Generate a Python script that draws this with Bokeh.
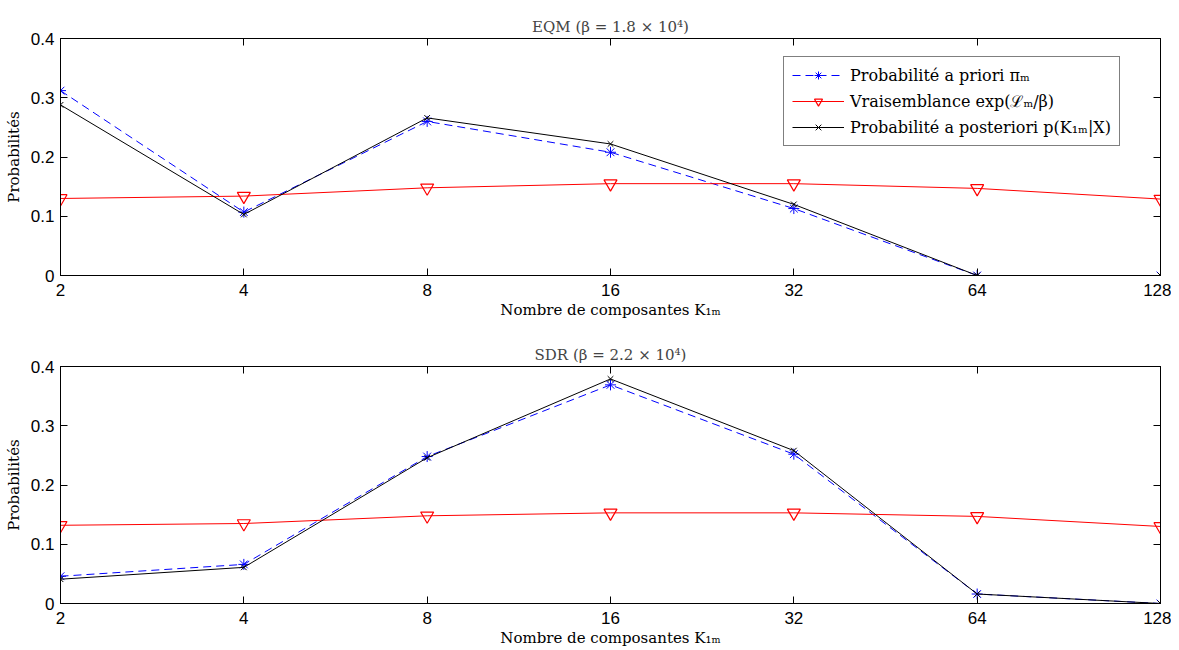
from bokeh.plotting import figure
from bokeh.layouts import column
from bokeh.models import (FixedTicker, NumeralTickFormatter, CustomJSTickFormatter,
                          Legend, LegendItem, LinearAxis, LogAxis, Range1d)
from bokeh.embed import file_html
from bokeh.resources import INLINE

K = [2, 4, 8, 16, 32, 64, 128]

titles = ["EQM (β = 1.8 × 10⁴)", "SDR (β = 2.2 × 10⁴)"]

prior_eqm = [0.312, 0.107, 0.260, 0.208, 0.113, 0.0, 0.0]
lik_eqm = [0.130, 0.134, 0.148, 0.155, 0.155, 0.147, 0.129]
post_eqm = [0.288, 0.103, 0.266, 0.222, 0.120, 0.0, 0.0]

prior_sdr = [0.046, 0.066, 0.248, 0.369, 0.252, 0.016, 0.0]
lik_sdr = [0.132, 0.135, 0.148, 0.153, 0.153, 0.147, 0.130]
post_sdr = [0.041, 0.061, 0.246, 0.379, 0.258, 0.016, 0.0]

legend_labels = ["Probabilité a priori πₘ",
                 "Vraisemblance exp(ℒₘ/β)",
                 "Probabilité a posteriori p(K₁ₘ|X)"]

SERIF = "DejaVu Serif"
SANS = "Liberation Sans"


def style_axis(ax):
    ax.major_tick_in = 7
    ax.major_tick_out = 0
    ax.minor_tick_in = 0
    ax.minor_tick_out = 0
    ax.axis_line_color = "black"
    ax.major_tick_line_color = "black"
    ax.major_label_text_font = SANS
    ax.major_label_text_font_size = "17px"
    ax.major_label_text_color = "black"
    ax.major_label_standoff = 6
    ax.axis_label_text_font = SERIF
    ax.axis_label_text_font_size = "15px"
    ax.axis_label_text_font_style = "normal"
    ax.axis_label_text_color = "black"


def make(title, prior, lik, post, top, height, bottom, legend):
    p = figure(width=1171, height=height, x_axis_type="log",
               x_range=Range1d(2, 128), y_range=Range1d(0, 0.4),
               output_backend="svg", toolbar_location=None,
               min_border_left=60, min_border_right=11,
               min_border_top=top, min_border_bottom=bottom)
    p.title.text = title
    p.title.align = "center"
    p.title.text_font = SERIF
    p.title.text_font_size = "15px"
    p.title.text_font_style = "normal"
    p.title.standoff = 5
    p.xgrid.visible = False
    p.ygrid.visible = False
    p.outline_line_color = "black"

    xt = FixedTicker(ticks=K)
    yt = FixedTicker(ticks=[0, 0.1, 0.2, 0.3, 0.4])
    yfmt = CustomJSTickFormatter(code="return Math.abs(tick) < 1e-9 ? '0' : tick.toFixed(1);")
    blank = CustomJSTickFormatter(code="return '';")
    p.xaxis.ticker = xt
    p.xaxis.formatter = NumeralTickFormatter(format="0")
    p.xaxis.axis_label = "Nombre de composantes K₁ₘ"
    p.yaxis.ticker = yt
    p.yaxis.formatter = yfmt
    p.yaxis.axis_label = "Probabilités"
    style_axis(p.xaxis[0])
    style_axis(p.yaxis[0])
    p.xaxis.major_label_standoff = 8
    p.xaxis.axis_label_standoff = 2
    p.yaxis.axis_label_standoff = 5

    ra = LinearAxis(ticker=yt, formatter=blank)
    style_axis(ra)
    ra.major_label_standoff = 0
    p.add_layout(ra, "right")
    ta = LogAxis(ticker=xt, formatter=blank)
    style_axis(ta)
    ta.major_label_standoff = 0
    p.add_layout(ta, "above")

    l1 = p.line(K, prior, line_color="blue", line_dash="8 5", line_width=1)
    m1 = p.scatter(K, prior, marker="asterisk", size=11, line_color="blue", line_width=1)
    l2 = p.line(K, lik, line_color="red", line_width=1)
    m2 = p.scatter(K, lik, marker="inverted_triangle", size=13, line_color="red",
                   fill_color=None, line_width=1.2)
    l3 = p.line(K, post, line_color="black", line_width=1)
    m3 = p.scatter(K, post, marker="x", size=8, line_color="black", line_width=1)

    if legend:
        lg = Legend(items=[LegendItem(label=legend_labels[0], renderers=[l1, m1]),
                           LegendItem(label=legend_labels[1], renderers=[l2, m2]),
                           LegendItem(label=legend_labels[2], renderers=[l3, m3])],
                    location=(723, 129))
        lg.label_text_font = SERIF
        lg.label_text_font_size = "16px"
        lg.label_text_color = "black"
        lg.border_line_color = "black"
        lg.border_line_width = 1
        lg.glyph_width = 52
        lg.glyph_height = 20
        lg.label_height = 20
        lg.spacing = 5
        lg.padding = 8
        lg.label_standoff = 6
        lg.margin = 0
        p.add_layout(lg, "center")
    return p


p1 = make(titles[0], prior_eqm, lik_eqm, post_eqm, top=38, height=336, bottom=61, legend=True)
p2 = make(titles[1], prior_sdr, lik_sdr, post_sdr, top=30, height=314, bottom=47, legend=False)

layout = column(p1, p2, spacing=0)
open("out.html", "w").write(file_html(layout, INLINE))
